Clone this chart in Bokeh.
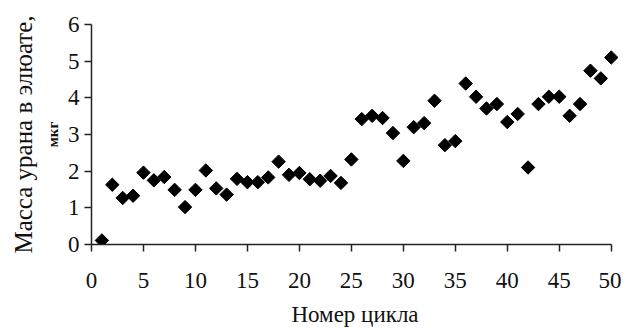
import numpy as np
from bokeh.plotting import figure
from bokeh.models import Range1d, FixedTicker, Title
from bokeh.embed import file_html
from bokeh.resources import INLINE

cycles = list(range(1, 51))
mass = [0.11, 1.63, 1.27, 1.33, 1.96, 1.75, 1.84, 1.49, 1.02, 1.49,
        2.02, 1.53, 1.36, 1.79, 1.70, 1.70, 1.83, 2.26, 1.90, 1.95,
        1.78, 1.74, 1.87, 1.68, 2.32, 3.42, 3.51, 3.45, 3.04, 2.28,
        3.20, 3.31, 3.92, 2.71, 2.82, 4.39, 4.03, 3.71, 3.83, 3.34,
        3.56, 2.10, 3.83, 4.03, 4.03, 3.51, 3.83, 4.74, 4.53, 5.10]
x_ticks = [0, 5, 10, 15, 20, 25, 30, 35, 40, 45, 50]
y_ticks = [0, 1, 2, 3, 4, 5, 6]

FONT = "Times New Roman"

p = figure(width=621, height=329, output_backend="svg", toolbar_location=None,
           x_range=Range1d(0, 50.7), y_range=Range1d(0, 6),
           min_border_left=91, min_border_right=3, min_border_top=24,
           min_border_bottom=0)
p.outline_line_color = None
p.xgrid.visible = False
p.ygrid.visible = False

p.scatter(cycles, mass, marker="square", angle=np.pi / 4, size=9.5,
          fill_color="black", line_color="black")

for axes in (p.xaxis, p.yaxis):
    axes.axis_line_color = "#222222"
    axes.axis_line_width = 1.5
    axes.major_tick_line_color = "#222222"
    axes.major_tick_line_width = 1.5
    axes.major_tick_in = 0
    axes.major_tick_out = 7
    axes.minor_tick_line_color = None
    axes.major_label_text_font = FONT
    axes.major_label_text_font_size = "23px"
    axes.major_label_text_color = "#111111"
    axes.axis_label_text_font = FONT
    axes.axis_label_text_font_style = "normal"
    axes.axis_label_text_color = "#111111"

p.xaxis.ticker = FixedTicker(ticks=x_ticks)
p.yaxis.ticker = FixedTicker(ticks=y_ticks)
p.xaxis.bounds = (0, 50)
p.yaxis.bounds = (0, 6)
p.xaxis.major_label_standoff = 21
p.yaxis.major_label_standoff = 5
p.xaxis.axis_label = "Номер цикла"
p.xaxis.axis_label_text_font_size = "23px"
p.xaxis.axis_label_standoff = 11
p.yaxis.axis_label = "мкг"
p.yaxis.axis_label_text_font_size = "15px"
p.yaxis.axis_label_text_font_style = "bold"
p.yaxis.axis_label_standoff = 4

t = Title(text="Масса урана в элюате,", align="center",
          text_font=FONT, text_font_size="25px", text_font_style="normal",
          text_color="#111111")
p.add_layout(t, "left")

open("out.html", "w").write(file_html(p, INLINE))
